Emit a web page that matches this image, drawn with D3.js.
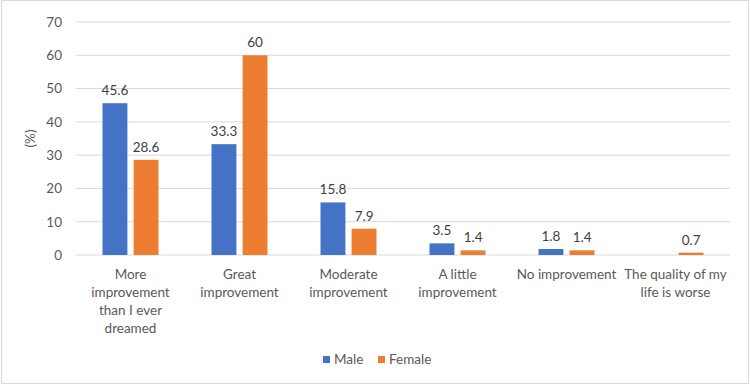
<!DOCTYPE html>
<html>
<head>
<meta charset="utf-8">
<script src="https://cdn.jsdelivr.net/npm/d3@7"></script>
<style>
  body { margin: 0; background: #fff; }
  text { font-family: Lato, "Noto Sans", sans-serif; }
</style>
</head>
<body>
<div id="chart-area"></div>
<script>
const categories = [
  "More improvement than I ever dreamed",
  "Great improvement",
  "Moderate improvement",
  "A little improvement",
  "No improvement",
  "The quality of my life is worse"
];
const categoryLines = [
  ["More", "improvement", "than I ever", "dreamed"],
  ["Great", "improvement"],
  ["Moderate", "improvement"],
  ["A little", "improvement"],
  ["No improvement"],
  ["The quality of my", "life is worse"]
];
const seriesNames = ["Male", "Female"];
const maleValues = [45.6, 33.3, 15.8, 3.5, 1.8, null];
const femaleValues = [28.6, 60, 7.9, 1.4, 1.4, 0.7];
const yTicks = [0, 10, 20, 30, 40, 50, 60, 70];
const colors = ["#4472C4", "#ED7D31"];

const svgWidth = 750, svgHeight = 386;
const margin = { left: 76, right: 20, top: 22, bottom: 131 };
const width = svgWidth - margin.left - margin.right;
const height = svgHeight - margin.top - margin.bottom;
const fontSize = 13.5;

const svg = d3.select("#chart-area")
              .append("svg")
              .attr("width", svgWidth)
              .attr("height", svgHeight);

svg.append("rect")
   .attr("x", 1.5).attr("y", 0.5)
   .attr("width", svgWidth - 3).attr("height", svgHeight - 3)
   .attr("fill", "#fff")
   .attr("stroke", "#d9d9d9");

const g = svg.append("g")
             .attr("transform", `translate(${margin.left},${margin.top})`);

const x = d3.scaleBand()
            .domain(categories)
            .range([0, width]);

const x1 = d3.scaleBand()
             .domain(seriesNames)
             .range([x.bandwidth() / 2 - 28, x.bandwidth() / 2 + 28])
             .paddingInner(0.2);

const y = d3.scaleLinear()
            .domain([0, 70])
            .range([height, 0]);

// gridlines
g.append("g")
 .selectAll("line")
 .data(yTicks)
 .enter()
 .append("line")
   .attr("x1", 0).attr("x2", width)
   .attr("y1", d => y(d)).attr("y2", d => y(d))
   .attr("stroke", "#d9d9d9")
   .attr("stroke-width", 1);

// y axis labels
const yAxisCall = d3.axisLeft(y).tickValues(yTicks).tickSize(0).tickPadding(14);
const yAxis = g.append("g").attr("class", "y axis").call(yAxisCall);
yAxis.select(".domain").remove();
yAxis.selectAll("text")
     .attr("font-size", fontSize)
     .attr("fill", "#595959")
     .style("font-family", "Lato, 'Noto Sans', sans-serif");

const series = seriesNames.map((name, i) => ({
  name: name,
  values: (i === 0 ? maleValues : femaleValues)
}));

series.forEach((s, i) => {
  const data = categories.map((c, j) => ({ cat: c, v: s.values[j] }))
                         .filter(d => d.v !== null);
  const grp = g.append("g");
  grp.selectAll("rect")
     .data(data)
     .enter()
     .append("rect")
       .attr("x", d => x(d.cat) + x1(s.name))
       .attr("width", x1.bandwidth())
       .attr("y", d => y(d.v))
       .attr("height", d => height - y(d.v))
       .attr("fill", colors[i]);
  grp.selectAll("text")
     .data(data)
     .enter()
     .append("text")
       .attr("x", d => x(d.cat) + x1(s.name) + x1.bandwidth() / 2)
       .attr("y", d => y(d.v) - 8)
       .attr("text-anchor", "middle")
       .attr("font-size", fontSize)
       .attr("fill", "#404040")
       .text(d => d.v);
});

// category labels
const xLabels = g.append("g")
                 .attr("transform", `translate(0, ${height})`);
categories.forEach((c, i) => {
  const t = xLabels.append("text")
                   .attr("x", x(c) + x.bandwidth() / 2)
                   .attr("y", 24)
                   .attr("text-anchor", "middle")
                   .attr("font-size", fontSize)
                   .attr("fill", "#595959");
  categoryLines[i].forEach((line, k) => {
    t.append("tspan")
     .attr("x", x(c) + x.bandwidth() / 2)
     .attr("dy", k === 0 ? 0 : 18)
     .text(line);
  });
});

// y axis title
svg.append("text")
   .attr("x", -(margin.top + height / 2))
   .attr("y", 35)
   .attr("text-anchor", "middle")
   .attr("transform", "rotate(-90)")
   .attr("font-size", fontSize)
   .attr("fill", "#595959")
   .text("(%)");

// legend
const legendItems = [{ name: "Male", x: 323 }, { name: "Female", x: 378 }];
const legend = svg.append("g");
legendItems.forEach((d, i) => {
  legend.append("rect")
        .attr("x", d.x).attr("y", 356)
        .attr("width", 7).attr("height", 7)
        .attr("fill", colors[i]);
  legend.append("text")
        .attr("x", d.x + 11).attr("y", 364)
        .attr("font-size", fontSize)
        .attr("fill", "#595959")
        .text(d.name);
});
</script>
</body>
</html>
